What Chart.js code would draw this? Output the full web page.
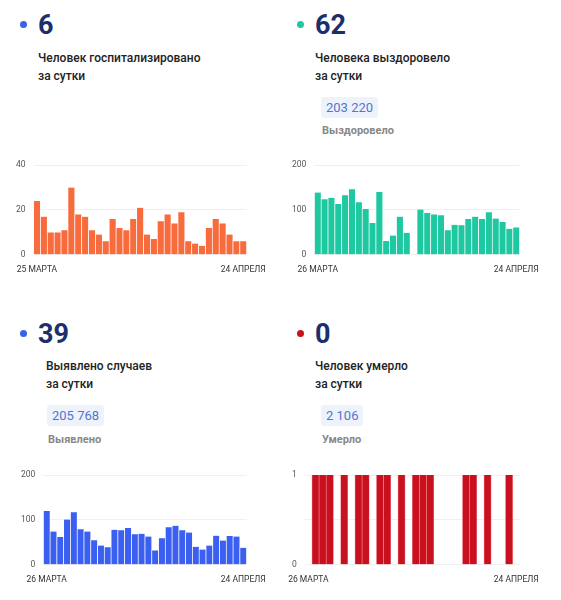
<!DOCTYPE html>
<html><head><meta charset="utf-8">
<script src="https://cdn.jsdelivr.net/npm/chart.js@4"></script>
<style>
body{margin:0;width:561px;height:600px;background:#fff;font-family:Roboto,sans-serif;position:relative;overflow:hidden}
.abs{position:absolute}
.dot{width:7px;height:7px;border-radius:50%}
.num{font-size:27px;font-weight:700;color:#1b2f6e;line-height:1}
.lbl{font-size:12px;font-weight:500;color:#222;line-height:18px}
.pill{background:#eef3fb;color:#5275cf;font-size:13px;padding:3px 5px;border-radius:3px;line-height:15px}
.sub{font-size:11px;color:#888;font-weight:700}
.cv{position:absolute;height:125px}
</style></head><body>
<div class="abs dot" style="left:20px;top:21px;background:#3a62e8"></div>
<div class="abs num" style="left:38px;top:12px">6</div>
<div class="abs lbl" style="left:38px;top:49px">Человек госпитализировано<br>за сутки</div>

<div class="abs dot" style="left:297px;top:21px;background:#1ec8a0"></div>
<div class="abs num" style="left:315px;top:12px">62</div>
<div class="abs lbl" style="left:315px;top:49px">Человека выздоровело<br>за сутки</div>
<div class="abs pill" style="left:321px;top:97px">203 220</div>
<div class="abs sub" style="left:322px;top:124px">Выздоровело</div>

<div class="abs dot" style="left:20px;top:330px;background:#3a62e8"></div>
<div class="abs num" style="left:38px;top:321px">39</div>
<div class="abs lbl" style="left:46px;top:357px">Выявлено случаев<br>за сутки</div>
<div class="abs pill" style="left:47px;top:405px">205 768</div>
<div class="abs sub" style="left:48px;top:433px">Выявлено</div>

<div class="abs dot" style="left:297px;top:330px;background:#c8101e"></div>
<div class="abs num" style="left:315px;top:321px">0</div>
<div class="abs lbl" style="left:315px;top:357px">Человек умерло<br>за сутки</div>
<div class="abs pill" style="left:321px;top:405px">2 106</div>
<div class="abs sub" style="left:322px;top:433px">Умерло</div>

<div class="cv" style="left:8px;top:152px;width:260px"><canvas id="c1"></canvas></div>
<div class="cv" style="left:284px;top:152px;width:257px"><canvas id="c2"></canvas></div>
<div class="cv" style="left:13px;top:462px;width:255px"><canvas id="c3"></canvas></div>
<div class="cv" style="left:284px;top:462px;width:257px"><canvas id="c4"></canvas></div>
<script>
const hospital=[24,17,10,10,11,30,18,17,11,9,6,16,12,11,16,21,9,7,15,18,14,19,6,5,4,12,16,14,9,6,6];
const recovered=[139,124,127,113,133,146,117,102,71,140,31,43,85,49,1,101,93,90,88,55,67,66,80,85,80,95,81,73,58,61];
const cases=[120,74,62,101,117,79,74,55,43,39,78,77,82,68,69,63,32,59,84,87,77,72,40,34,43,65,54,64,63,38];
const deaths=[0,1,1,1,0,1,0,1,1,0,1,1,0,1,0,1,1,1,0,0,0,0,1,1,0,1,0,0,1,0];
const startLabels={hospital:'25 МАРТА',other:'26 МАРТА'};
const endLabel='24 АПРЕЛЯ';
function labels(n,start){return Array.from({length:n},(_,i)=>i===0?start:(i===n-1?endLabel:''));}
function make(id,data,start,color,max,step,border){
  new Chart(document.getElementById(id),{type:'bar',
    data:{labels:labels(data.length,start),datasets:[{data,backgroundColor:color,borderColor:border,borderWidth:{left:0.7,right:0.7},categoryPercentage:1,barPercentage:1}]},
    options:{responsive:true,maintainAspectRatio:false,animation:false,
      plugins:{legend:{display:false},tooltip:{enabled:false}},
      layout:{padding:{right:18}},
      scales:{x:{grid:{display:false},border:{display:false},
        ticks:{autoSkip:false,maxRotation:0,color:'#333',font:{size:8.5,family:'Roboto'},padding:2}},
        y:{min:0,max:max,border:{display:false},grid:{color:'#f0f0f0',drawTicks:false},
          ticks:{stepSize:step,color:'#555',font:{size:8.5,family:'Roboto'},padding:8,callback:v=>(max===1&&v===0.5)?'':v}}}}});
}
make('c1',hospital,startLabels.hospital,'#f76b3c',40,20,'#fff');
make('c2',recovered,startLabels.other,'#1ec8a0',200,100,'#fff');
make('c3',cases,startLabels.other,'#3b5ff0',200,100,'#fff');
make('c4',deaths,startLabels.other,'#c8101e',1,0.5,'#f07a80');
</script></body></html>
